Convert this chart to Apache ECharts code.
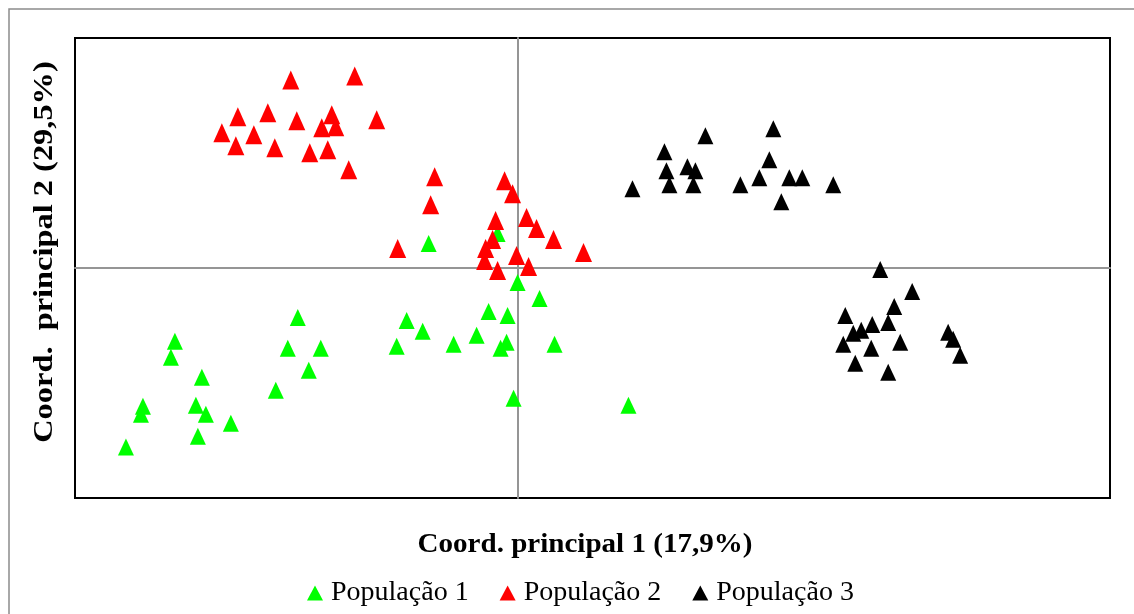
<!DOCTYPE html>
<html>
<head>
<meta charset="utf-8">
<script src="https://cdn.jsdelivr.net/npm/echarts@6/dist/echarts.min.js"></script>
<style>html,body{margin:0;padding:0;background:#fff}#c{width:1134px;height:614px}</style>
</head>
<body>
<div id="c"></div>
<script>
const seriesNames = ['População 1', 'População 2', 'População 3'];
const xTitle = 'Coord. principal 1 (17,9%)';
const yTitle = 'Coord.  principal 2 (29,5%)';

const pop1 = [
  [-2.20,-0.50],[-3.43,-0.74],[-3.47,-0.90],[-2.30,-0.81],[-1.97,-0.81],[-2.09,-1.03],
  [-3.16,-1.10],[-2.42,-1.23],[-3.75,-1.39],[-3.77,-1.47],[-3.22,-1.38],[-3.12,-1.47],
  [-2.87,-1.56],[-3.20,-1.69],[-3.92,-1.80],[0.00,-0.15],[0.22,-0.31],[-0.29,-0.44],
  [-0.10,-0.48],[-1.11,-0.53],[-0.95,-0.64],[-0.41,-0.68],[-1.21,-0.79],[-0.64,-0.77],
  [-0.11,-0.75],[-0.17,-0.81],[0.37,-0.77],[-0.04,-1.31],[1.11,-1.38],[-0.89,0.24],
  [-0.20,0.34]
];
const pop2 = [
  [-2.27,1.88],[-1.63,1.92],[-2.80,1.51],[-2.50,1.55],[-2.21,1.47],[-1.86,1.53],
  [-1.96,1.40],[-1.82,1.41],[-1.41,1.48],[-2.96,1.35],[-2.64,1.33],[-2.82,1.22],
  [-2.43,1.20],[-2.08,1.15],[-1.90,1.18],[-1.69,0.98],[-0.83,0.91],[-0.87,0.63],
  [-1.20,0.19],[-0.13,0.87],[-0.05,0.74],[-0.22,0.47],[0.09,0.50],[0.19,0.39],
  [0.36,0.28],[0.66,0.15],[-0.25,0.28],[-0.32,0.19],[-0.33,0.07],[-0.20,-0.03],
  [-0.01,0.12],[0.11,0.01]
];
const pop3 = [
  [1.15,0.79],[1.47,1.16],[1.49,0.97],[1.52,0.83],[1.88,1.32],[1.70,1.01],
  [1.78,0.97],[1.76,0.83],[2.23,0.83],[2.56,1.39],[2.52,1.08],[2.42,0.90],
  [2.72,0.90],[2.85,0.90],[2.64,0.66],[3.16,0.83],[3.63,-0.02],[3.95,-0.24],
  [3.77,-0.39],[3.28,-0.48],[3.71,-0.55],[3.55,-0.57],[3.44,-0.63],[3.36,-0.66],
  [3.26,-0.77],[3.54,-0.81],[3.83,-0.75],[3.38,-0.96],[3.71,-1.05],[4.31,-0.65],
  [4.36,-0.72],[4.43,-0.88]
];
const colors = ['#00ff00', '#ff0000', '#000000'];

const chart = echarts.init(document.getElementById('c'));
const serif = '"Liberation Serif","Times New Roman",serif';
chart.setOption({
  animation: false,
  backgroundColor: '#fff',
  grid: {left: 75, top: 38, width: 1035, height: 460, show: true, borderColor: '#000', borderWidth: 2, backgroundColor: 'transparent'},
  xAxis: {
    type: 'value', min: -4.43, max: 5.93,
    axisLine: {show: true, onZero: true, lineStyle: {color: '#959595', width: 2}},
    axisTick: {show: false}, axisLabel: {show: false}, splitLine: {show: false}
  },
  yAxis: {
    type: 'value', min: -2.31, max: 2.30,
    axisLine: {show: true, onZero: true, lineStyle: {color: '#959595', width: 2}},
    axisTick: {show: false}, axisLabel: {show: false}, splitLine: {show: false}
  },
  legend: {
    left: 302, top: 574, itemGap: 31, itemWidth: 16, itemHeight: 15,
    icon: 'triangle',
    textStyle: {fontFamily: serif, fontSize: 28, color: '#000', padding: [0,0,0,3]},
    data: seriesNames
  },
  graphic: [
    {type: 'rect', shape: {x: 9, y: 9, width: 1300, height: 800}, style: {fill: 'none', stroke: '#8c8c8c', lineWidth: 1.5}, silent: true, z: -10},
    {type: 'text', x: 585, y: 545, scaleX: 1.076, style: {text: xTitle, font: 'bold 27px ' + serif, fill: '#000', textAlign: 'center', textVerticalAlign: 'middle'}},
    {type: 'text', x: 45, y: 252, rotation: Math.PI / 2, scaleX: 1.2, style: {text: yTitle, font: 'bold 27px ' + serif, fill: '#000', textAlign: 'center', textVerticalAlign: 'middle'}}
  ],
  series: [
    {name: seriesNames[0], type: 'scatter', data: pop1, symbol: 'triangle', symbolSize: [16, 17], itemStyle: {color: colors[0], opacity: 1}},
    {name: seriesNames[1], type: 'scatter', data: pop2, symbol: 'triangle', symbolSize: [17, 19], itemStyle: {color: colors[1], opacity: 1}},
    {name: seriesNames[2], type: 'scatter', data: pop3, symbol: 'triangle', symbolSize: [16, 17], itemStyle: {color: colors[2], opacity: 1}}
  ]
});
</script>
</body>
</html>
